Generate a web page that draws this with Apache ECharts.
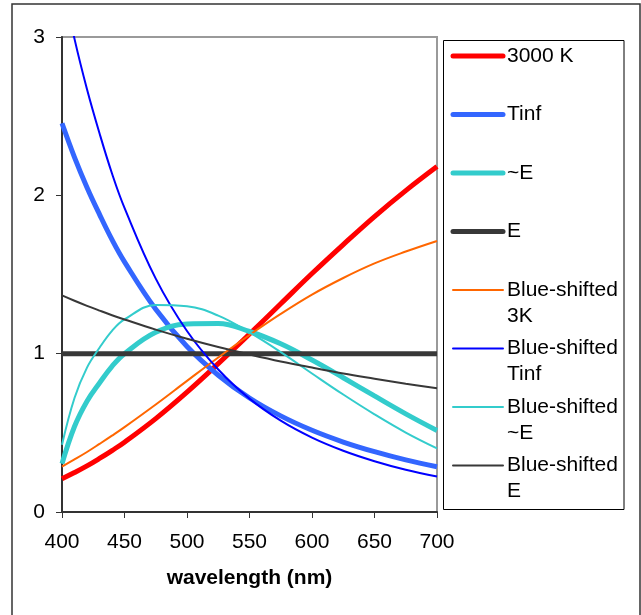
<!DOCTYPE html>
<html>
<head>
<meta charset="utf-8">
<script src="https://cdn.jsdelivr.net/npm/echarts@6/dist/echarts.min.js"></script>
<style>
html,body{margin:0;padding:0;background:#fff;}
#chart{width:641px;height:615px;}
</style>
</head>
<body>
<div id="chart"></div>
<script>
// wavelength samples (nm)
const wavelengths = [400, 410, 420, 430, 440, 450, 475, 500, 525, 550, 575, 600, 625, 650, 675, 700];

// series values
const t3000K      = [0.210, 0.249, 0.291, 0.338, 0.388, 0.441, 0.590, 0.757, 0.937, 1.124, 1.315, 1.506, 1.689, 1.866, 2.030, 2.182];
const tInf        = [2.455, 2.240, 2.050, 1.880, 1.720, 1.580, 1.280, 1.045, 0.864, 0.720, 0.607, 0.516, 0.442, 0.381, 0.329, 0.286];
const approxE     = [0.305, 0.540, 0.700, 0.815, 0.920, 1.000, 1.135, 1.187, 1.190, 1.140, 1.062, 0.960, 0.848, 0.733, 0.620, 0.515];
const equalE      = [1, 1, 1, 1, 1, 1, 1, 1, 1, 1, 1, 1, 1, 1, 1, 1];
const bs3K        = [0.287, 0.332, 0.379, 0.430, 0.482, 0.536, 0.679, 0.828, 0.976, 1.118, 1.251, 1.373, 1.478, 1.570, 1.645, 1.712];
const bsTinf      = [3.360, 2.988, 2.670, 2.392, 2.138, 1.921, 1.474, 1.143, 0.900, 0.716, 0.577, 0.470, 0.387, 0.321, 0.267, 0.224];
const bsApproxE   = [0.425, 0.720, 0.912, 1.037, 1.144, 1.216, 1.307, 1.299, 1.240, 1.134, 1.010, 0.875, 0.742, 0.617, 0.502, 0.402];
const bsE         = [1.368, 1.334, 1.302, 1.272, 1.243, 1.216, 1.152, 1.094, 1.042, 0.995, 0.951, 0.912, 0.875, 0.842, 0.810, 0.781];

const seriesNames  = ['3000 K', 'Tinf', '~E', 'E', 'Blue-shifted 3K', 'Blue-shifted Tinf', 'Blue-shifted ~E', 'Blue-shifted E'];
const legendLabels = ['3000 K', 'Tinf', '~E', 'E', 'Blue-shifted\n3K', 'Blue-shifted\nTinf', 'Blue-shifted\n~E', 'Blue-shifted\nE'];
const seriesValues = [t3000K, tInf, approxE, equalE, bs3K, bsTinf, bsApproxE, bsE];

const xTicks = [400, 450, 500, 550, 600, 650, 700];
const yTicks = [0, 1, 2, 3];

// styles
const colors = ['#FF0000', '#3366FF', '#33CCCC', '#383838', '#FF6600', '#0000FF', '#33CCCC', '#383838'];
const widths = [5, 5, 5, 5, 2, 2, 2, 2];

const FONT = '"Liberation Sans", Arial, sans-serif';

const chart = echarts.init(document.getElementById('chart'), null, {renderer: 'canvas'});

const series = seriesNames.map((name, i) => ({
  name: name,
  type: 'line',
  data: wavelengths.map((w, k) => [w, seriesValues[i][k]]),
  smooth: 0.4,
  showSymbol: false,
  clip: true,
  lineStyle: {color: colors[i], width: widths[i]},
  itemStyle: {color: colors[i]},
  z: 2 + i,
  animation: false
}));

const gridL = 62, gridT = 37, gridW = 375, gridH = 475;

const graphic = [
  {type: 'rect', shape: {x: 12, y: 4, width: 628, height: 640},
   style: {fill: 'none', stroke: '#333', lineWidth: 1.5}, silent: true},
  {type: 'rect', shape: {x: 443.5, y: 40.5, width: 180.5, height: 469},
   style: {fill: 'none', stroke: '#000', lineWidth: 1}, silent: true}
];
legendLabels.forEach((lab, i) => {
  const yc = 56 + 58.5 * i;
  graphic.push({type: 'line', shape: {x1: 453, y1: yc, x2: 503, y2: yc},
    style: {stroke: colors[i], lineWidth: widths[i] === 5 ? 5 : 2, lineCap: 'round'}, silent: true});
  graphic.push({type: 'text', x: 507, y: yc - 13,
    style: {text: lab, font: '21px ' + FONT, lineHeight: 26, fill: '#000', verticalAlign: 'top', align: 'left'}, silent: true});
});

chart.setOption({
  animation: false,
  backgroundColor: '#fff',
  grid: {left: gridL, top: gridT, width: gridW, height: gridH, show: true,
         borderColor: '#9a9a9a', borderWidth: 2, backgroundColor: 'transparent'},
  xAxis: {
    type: 'value', min: xTicks[0], max: xTicks[xTicks.length - 1], interval: 50,
    name: 'wavelength (nm)', nameLocation: 'middle', nameGap: 56,
    nameTextStyle: {fontFamily: FONT, fontSize: 21, fontWeight: 'bold', color: '#000'},
    axisLine: {show: true, lineStyle: {color: '#333', width: 2}},
    axisTick: {show: true, length: 6, lineStyle: {color: '#333', width: 1}},
    axisLabel: {fontFamily: FONT, fontSize: 21, color: '#000', margin: 20},
    splitLine: {show: false}
  },
  yAxis: {
    type: 'value', min: yTicks[0], max: yTicks[yTicks.length - 1], interval: 1,
    axisLine: {show: true, lineStyle: {color: '#333', width: 2}},
    axisTick: {show: true, length: 6, lineStyle: {color: '#333', width: 1}},
    axisLabel: {fontFamily: FONT, fontSize: 21, color: '#000', margin: 17},
    splitLine: {show: false}
  },
  legend: {show: false},
  graphic: graphic,
  series: series
});
</script>
</body>
</html>
